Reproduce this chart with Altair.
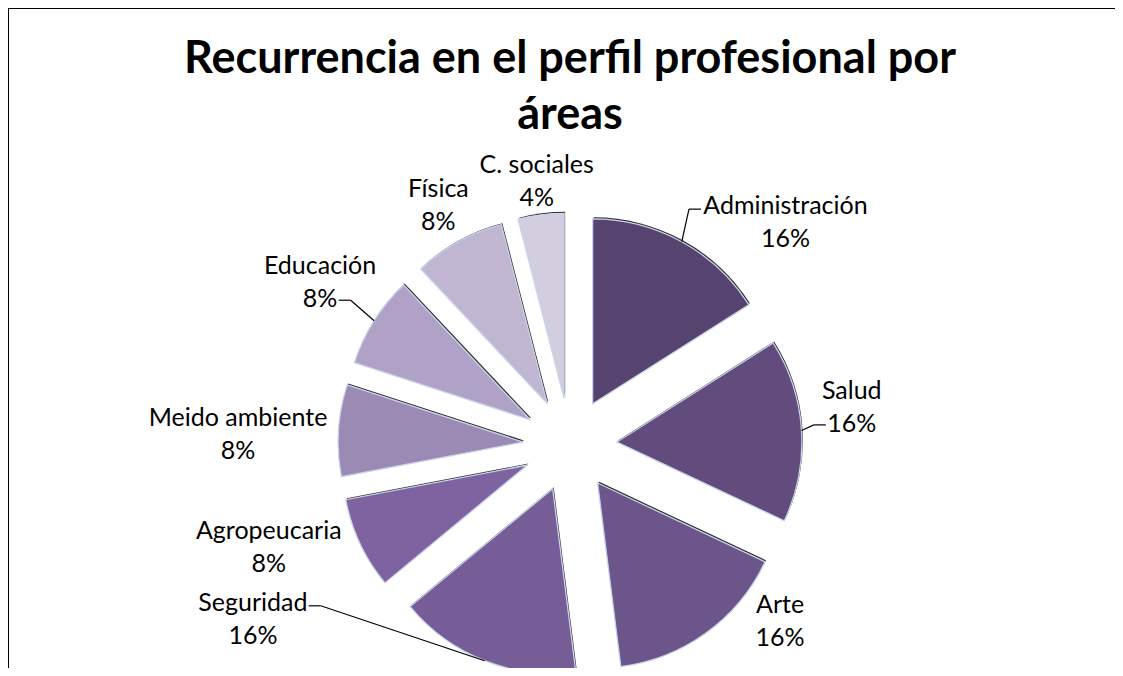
import altair as alt
import pandas as pd

# ---- data ----
categories = ["Administración", "Salud", "Arte", "Seguridad", "Agropeucaria",
              "Meido ambiente", "Educación", "Física", "C. sociales"]
percent = [16, 16, 16, 16, 8, 8, 8, 8, 4]
colors = ["#56436f", "#614c7d", "#6c558b", "#775d98", "#7f63a0",
          "#9b8ab4", "#b0a2c6", "#c0b6d1", "#d3cde0"]

# ---- label layout (annotation nudges, degrees / px) ----
label_angle_shift = {"Administración": 15.3, "Salud": -4, "Arte": -14,
                     "Seguridad": 39.6, "Agropeucaria": 6.4,
                     "Meido ambiente": -1.8, "Educación": 0.6}
label_radius_shift = {"Seguridad": 62}
leader_line = {"Administración": 0, "Salud": 1, "Educación": 1, "Seguridad": 0}

df = pd.DataFrame({
    "cat": categories,
    "val": percent,
    "color": colors,
    "order": list(range(len(categories))),
})
df["pct"] = [f"{v}%" for v in percent]
df["label"] = df["cat"] + "\n" + df["pct"]
df["lshift"] = [label_angle_shift.get(c, 0) for c in categories]
df["rshift"] = [label_radius_shift.get(c, 0) for c in categories]
df["leader"] = [1 if c in leader_line else 0 for c in categories]
df["lline"] = [leader_line.get(c, 0) for c in categories]

W, H = 1107, 660
CX, CY = 562, 437
EXPLODE = 47
R = 185
FONT = "Lato"
LH = 33

base = alt.Chart(df).transform_window(
    cum="sum(val)", sort=[alt.SortField("order")], frame=[None, 0]
).transform_joinaggregate(
    total="sum(val)"
).transform_calculate(
    a0="(datum.cum - datum.val) / datum.total * 2 * PI",
    a1="datum.cum / datum.total * 2 * PI",
).transform_calculate(
    mid="(datum.a0 + datum.a1) / 2",
).transform_calculate(
    px=f"{CX} + {EXPLODE} * sin(datum.mid)",
    py=f"{CY} - {EXPLODE} * cos(datum.mid)",
    th="datum.mid + datum.lshift * PI / 180",
).transform_calculate(
    lr="258 + 5.3 * length(datum.cat) * abs(sin(datum.th)) + datum.rshift",
).transform_calculate(
    lx=f"{CX} + datum.lr * sin(datum.th)",
    ly=f"{CY} - datum.lr * cos(datum.th)",
    sx="datum.px + 1",
    sy="datum.py - 1.5",
)

shadow = base.mark_arc(radius=R, fill="#2a2a2a").encode(
    x=alt.X("sx:Q", scale=None),
    y=alt.Y("sy:Q", scale=None),
    theta=alt.Theta("a0:Q", scale=None),
    theta2="a1:Q",
)

slices = base.mark_arc(radius=R, stroke="#c9d3ea", strokeWidth=1.3).encode(
    x=alt.X("px:Q", scale=None),
    y=alt.Y("py:Q", scale=None),
    theta=alt.Theta("a0:Q", scale=None),
    theta2="a1:Q",
    fill=alt.Fill("color:N", scale=None),
)

labels = base.mark_text(
    font=FONT, fontSize=25, lineBreak="\n", lineHeight=LH, dy=-LH / 2,
    align="center", baseline="middle", color="#000000"
).encode(
    x=alt.X("lx:Q", scale=None),
    y=alt.Y("ly:Q", scale=None),
    text="label:N",
)

lead = base.transform_filter("datum.leader == 1").transform_calculate(
    side="sin(datum.th) >= 0 ? -1 : 1",
    hw="datum.lline == 0 ? length(datum.cat) * 5.75 : length(datum.pct) * 7.3",
    ax=f"{CX} + {EXPLODE + R} * sin(datum.mid)",
    ay=f"{CY} - {EXPLODE + R} * cos(datum.mid)",
).transform_calculate(
    p0x="datum.lx + datum.side * (datum.hw + 4)",
    p0y=f"datum.ly + (datum.lline == 0 ? -{LH / 2} + 3 : {LH / 2} + 1)",
).transform_calculate(
    p1x="datum.p0x + datum.side * 12",
)

stub = lead.mark_rule(color="#000000", strokeWidth=1.2).encode(
    x=alt.X("p0x:Q", scale=None), x2="p1x:Q",
    y=alt.Y("p0y:Q", scale=None), y2="p0y:Q",
)
diag = lead.mark_rule(color="#000000", strokeWidth=1.2).encode(
    x=alt.X("p1x:Q", scale=None), x2="ax:Q",
    y=alt.Y("p0y:Q", scale=None), y2="ay:Q",
)

title_df = pd.DataFrame({"t": ["Recurrencia en el perfil profesional por\náreas"]})
title = alt.Chart(title_df).mark_text(
    font=FONT, fontSize=45, fontWeight="bold", lineBreak="\n", lineHeight=56,
    align="center", baseline="alphabetic", color="#000000"
).encode(x=alt.value(CX), y=alt.value(65), text="t:N")

frame_top = alt.Chart(title_df).mark_rule(color="#000000", strokeWidth=2).encode(
    x=alt.value(0), x2=alt.value(W), y=alt.value(0)
)
frame_left = alt.Chart(title_df).mark_rule(color="#000000", strokeWidth=2).encode(
    x=alt.value(0), y=alt.value(0), y2=alt.value(H)
)

chart = alt.layer(
    shadow, slices, stub, diag, labels, title, frame_top, frame_left
).properties(
    width=W, height=H, autosize=alt.AutoSizeParams(type="none"), padding=0,
    background="#ffffff"
).configure_view(strokeWidth=0, stroke="transparent")

chart.save("out.html", embed_options={"renderer": "svg", "actions": False})
